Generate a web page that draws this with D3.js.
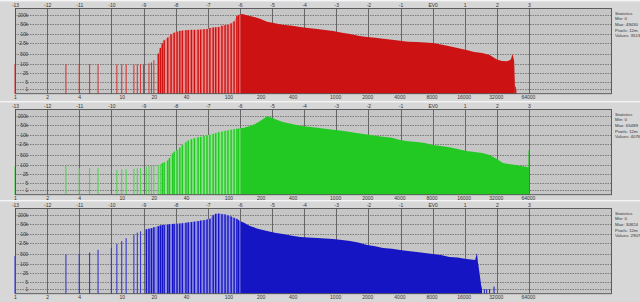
<!DOCTYPE html>
<html><head><meta charset="utf-8">
<script src="https://cdn.jsdelivr.net/npm/d3@7"></script>
<style>html,body{margin:0;padding:0;background:#d7d7d7;overflow:hidden}svg{display:block}</style>
</head><body>
<svg id="c" width="640" height="302"></svg>
<script>
// ---- tick data ----
const evTicks = [-13,-12,-11,-10,-9,-8,-7,-6,-5,-4,-3,-2,-1,0,1,2,3];
const evLabels = ["-13","-12","-11","-10","-9","-8","-7","-6","-5","-4","-3","-2","-1","EV0","1","2","3"];
const valueTicks = [1,2,4,10,20,40,100,200,400,1000,2000,4000,8000,16000,32000,64000];
const countTicks = [1,5,25,100,500,2500,10000,50000,200000];
const countLabels = ["1","5","25","100","500","2.5k","10k","50k","200k"];
const gapValues = [128];

// ---- channel data: [pixel value, count] ----
const redLines = [[1,100],[3,100],[4,100],[5,95],[6,95],[9,90],[10,95],[11,95],[13,90],[14,95],[15,95],[16,90],[18,110],[19,130],[20,180],[22,500],[23,1200],[24,2500],[25,4000],[27,6000],[29,10000],[31,13000],[33,15000],[35,17000],[37,18000],[40,19000],[42,19500],[45,20000],[48,20000],[52,20500],[55,21000],[59,22000],[63,23000],[67,27000],[72,29000],[76,30000],[81,31000],[87,38000],[93,42000],[99,45000],[106,55000],[113,75000],[120,170000]];
const redDense = [[122,190000],[128,215000],[135,230000],[146,200000],[159,171000],[178,140000],[198,110000],[230,70000],[272,55000],[323,45000],[395,38000],[470,31000],[558,27000],[678,23000],[805,19500],[956,16700],[1160,13000],[1380,10500],[1640,8000],[1990,6600],[2370,5800],[2810,5000],[3410,4300],[4050,3700],[4820,3200],[5830,3000],[6930,2800],[8200,2600],[9800,2100],[11800,1600],[14000,1200],[17000,880],[20100,650],[23900,550],[28000,400],[32800,200],[36600,160],[41000,150],[44300,200],[46000,470],[47600,150],[48300,3]];
const redTail = [[48800,2],[49430,1]];

const greenLines = [[1,80],[3,85],[4,60],[5,60],[6,60],[9,45],[10,50],[11,50],[13,55],[14,60],[15,60],[17,75],[18,85],[19,90],[20,95],[22,100],[23,110],[24,135],[25,150],[27,200],[28,300],[30,600],[31,800],[33,1000],[35,1500],[37,2200],[40,3500],[42,4500],[45,5500],[48,6500],[52,7500],[55,8000],[59,9000],[63,10000],[67,11000],[72,12500],[76,14000],[81,16000],[87,18000],[93,20000],[99,22000],[106,24000],[113,26000],[120,28000]];
const greenDense = [[122,28000],[128,30000],[140,33000],[159,42000],[178,58000],[198,92000],[217,140000],[230,190000],[245,170000],[272,125000],[323,79000],[395,58000],[470,45000],[558,38000],[678,33000],[805,28000],[956,24000],[1160,20000],[1380,17000],[1640,14000],[1990,11500],[2370,9500],[2810,8000],[3410,6800],[4050,4800],[4820,4000],[5830,3500],[6930,3000],[8200,2200],[9800,1900],[11800,1600],[14000,1200],[17000,880],[20100,750],[23900,640],[28000,470],[32800,250],[37300,135],[43700,110],[49500,100],[56000,85],[62500,72],[64600,70],[64800,1000],[65489,1000]];
const greenTail = [];

const blueLines = [[1,350],[3,450],[4,450],[5,600],[6,900],[8,1200],[9,2200],[10,3500],[11,5500],[13,10000],[14,13000],[15,16000],[17,22000],[18,24000],[19,26000],[20,30000],[22,35000],[23,40000],[24,42000],[25,44000],[27,46000],[28,48000],[30,50000],[31,51000],[33,52000],[35,54000],[37,56000],[40,60000],[42,64000],[45,68000],[48,72000],[52,78000],[55,85000],[59,90000],[63,100000],[67,110000],[72,200000],[76,240000],[81,250000],[87,230000],[93,220000],[99,190000],[106,160000],[113,130000],[120,110000]];
const blueDense = [[122,100000],[128,80000],[140,60000],[159,36000],[188,24000],[230,16700],[272,13000],[323,10500],[395,8000],[470,6600],[558,6000],[678,5600],[805,5200],[956,4800],[1160,4100],[1380,3500],[1640,2800],[1990,1900],[2370,1600],[2810,1200],[3410,1050],[4050,880],[4820,750],[5830,640],[6930,550],[8200,470],[9800,400],[11800,300],[14000,270],[17000,220],[18800,200],[20500,185],[21300,550],[21700,160],[22600,20],[23300,3],[23800,1]];
const blueTail = [[25000,1],[26300,1],[28000,1],[30824,2]];

// ---- statistics ----
const statMin = [0,0,0];
const statMax = [49430,65489,30824];
const statPixels = ["12m","12m","12m"];
const statValues = [3513,4076,2907];

// combing (tinted) region starts at this pixel value
const tintStart = [22,24,17];

const channels = [
  {lines:redLines, dense:redDense, tail:redTail, col:"#cc1212", mid:"#d43a3a", tint:"#e88a8a"},
  {lines:greenLines, dense:greenDense, tail:greenTail, col:"#22c922", mid:"#4fd44f", tint:"#8fe08f"},
  {lines:blueLines, dense:blueDense, tail:blueTail, col:"#1515c4", mid:"#3a3acc", tint:"#8e8ee0"}
];
const tops = [0,101,200];

const svg = d3.select("#c");
svg.append("rect").attr("width",640).attr("height",302).attr("fill","#d7d7d7");

const x = d3.scaleLog().base(2).domain([1,65536]).range([15,529]);
const plotL = 15, plotR = 612;
const font = "Liberation Sans, Arial, sans-serif";

channels.forEach((ch,i)=>{
  const T = tops[i];
  const y0 = T+93.7, yTop = T+8.5;
  const y = d3.scaleSymlog().constant(1).domain([0,550000]).range([y0,yTop]);
  const g = svg.append("g");

  // separator
  g.append("rect").attr("x",0).attr("y",T).attr("width",640).attr("height",1.4).attr("fill","#f4f4f4");

  // plot background
  g.append("rect").attr("x",plotL).attr("y",yTop).attr("width",plotR-plotL).attr("height",y0-yTop).attr("fill","#c6c6c6");

  // horizontal grid (dotted)
  g.selectAll(".hg").data(countTicks).join("line")
    .attr("x1",plotL).attr("x2",plotR)
    .attr("y1",d=>Math.round(y(d))+0.5).attr("y2",d=>Math.round(y(d))+0.5)
    .attr("stroke","#6a6a6a").attr("stroke-width",0.8).attr("stroke-dasharray","1.5,1");

  // vertical grid
  g.selectAll(".vg").data(evTicks).join("line")
    .attr("x1",d=>Math.round(x(Math.pow(2,d+13)))+0.5).attr("x2",d=>Math.round(x(Math.pow(2,d+13)))+0.5)
    .attr("y1",yTop).attr("y2",y0)
    .attr("stroke","#5c5c5c").attr("stroke-width",0.9);

  // tinted combing area
  const combPts = ch.lines.filter(d=>d[0]>=tintStart[i]).concat([ch.dense[0]]);
  const area = d3.area().x(d=>x(d[0])).y0(y0).y1(d=>y(d[1]));
  g.append("path").datum(combPts).attr("d",area).attr("fill",ch.tint);

  // individual value lines
  g.selectAll(".ln").data(ch.lines).join("rect")
    .attr("x",d=>x(d[0])-(d[0]<tintStart[i]?0.55:0.7)).attr("width",d=>d[0]<tintStart[i]?1.1:1.4)
    .attr("y",d=>y(d[1])).attr("height",d=>y0-y(d[1]))
    .attr("fill",d=>d[0]<tintStart[i]?ch.mid:ch.col);

  // dense region
  g.append("path").datum(ch.dense).attr("d",area).attr("fill",ch.col);

  // gap lines
  gapValues.forEach(v=>{
    const e = ch.dense.find(d=>d[0]===v);
    if(e) g.append("rect").attr("x",x(v)-0.5).attr("width",1).attr("y",y(e[1])).attr("height",y0-y(e[1])).attr("fill",ch.tint);
  });

  // tail lines
  g.selectAll(".tl").data(ch.tail).join("rect")
    .attr("x",d=>x(d[0])-0.5).attr("width",1)
    .attr("y",d=>y(d[1])).attr("height",d=>y0-y(d[1]))
    .attr("fill",ch.col);

  // border
  g.append("rect").attr("x",plotL+0.5).attr("y",yTop).attr("width",plotR-plotL-1).attr("height",y0-yTop)
    .attr("fill","none").attr("stroke","#505050").attr("stroke-width",0.9);

  // top axis (EV)
  const xEV = d3.scaleLinear().domain([-13,3]).range([x(1),x(65536)]);
  const top = g.append("g").attr("transform",`translate(0,${yTop})`)
    .call(d3.axisTop(xEV).tickValues(evTicks).tickFormat((d,k)=>evLabels[k]).tickSize(0).tickPadding(1.3));
  top.select(".domain").remove();
  top.selectAll("text").attr("font-size",5).attr("font-family",font).attr("fill","#333");

  // bottom axis (values)
  const bot = g.append("g").attr("transform",`translate(0,${y0})`)
    .call(d3.axisBottom(x).tickValues(valueTicks).tickFormat(d3.format("d")).tickSize(0).tickPadding(1.5));
  bot.select(".domain").remove();
  bot.selectAll("text").attr("font-size",5).attr("font-family",font).attr("fill","#333");

  // count axis inside plot
  const lef = g.append("g").attr("transform",`translate(29,0)`)
    .call(d3.axisLeft(y).tickValues(countTicks).tickFormat((d,k)=>countLabels[k]).tickSize(0).tickPadding(1));
  lef.select(".domain").remove();
  lef.selectAll("text").attr("font-size",4.6).attr("font-family",font).attr("fill","#333");

  // statistics
  const st = ["Statistics","Min: "+statMin[i],"Max: "+statMax[i],"Pixels: "+statPixels[i],"Values: "+statValues[i]];
  g.selectAll(".st").data(st).join("text")
    .attr("x",615).attr("y",(d,k)=>T+14.5+k*5.7)
    .attr("font-size",4.4).attr("font-family",font).attr("fill","#333")
    .text(d=>d);
});
</script>
</body></html>
